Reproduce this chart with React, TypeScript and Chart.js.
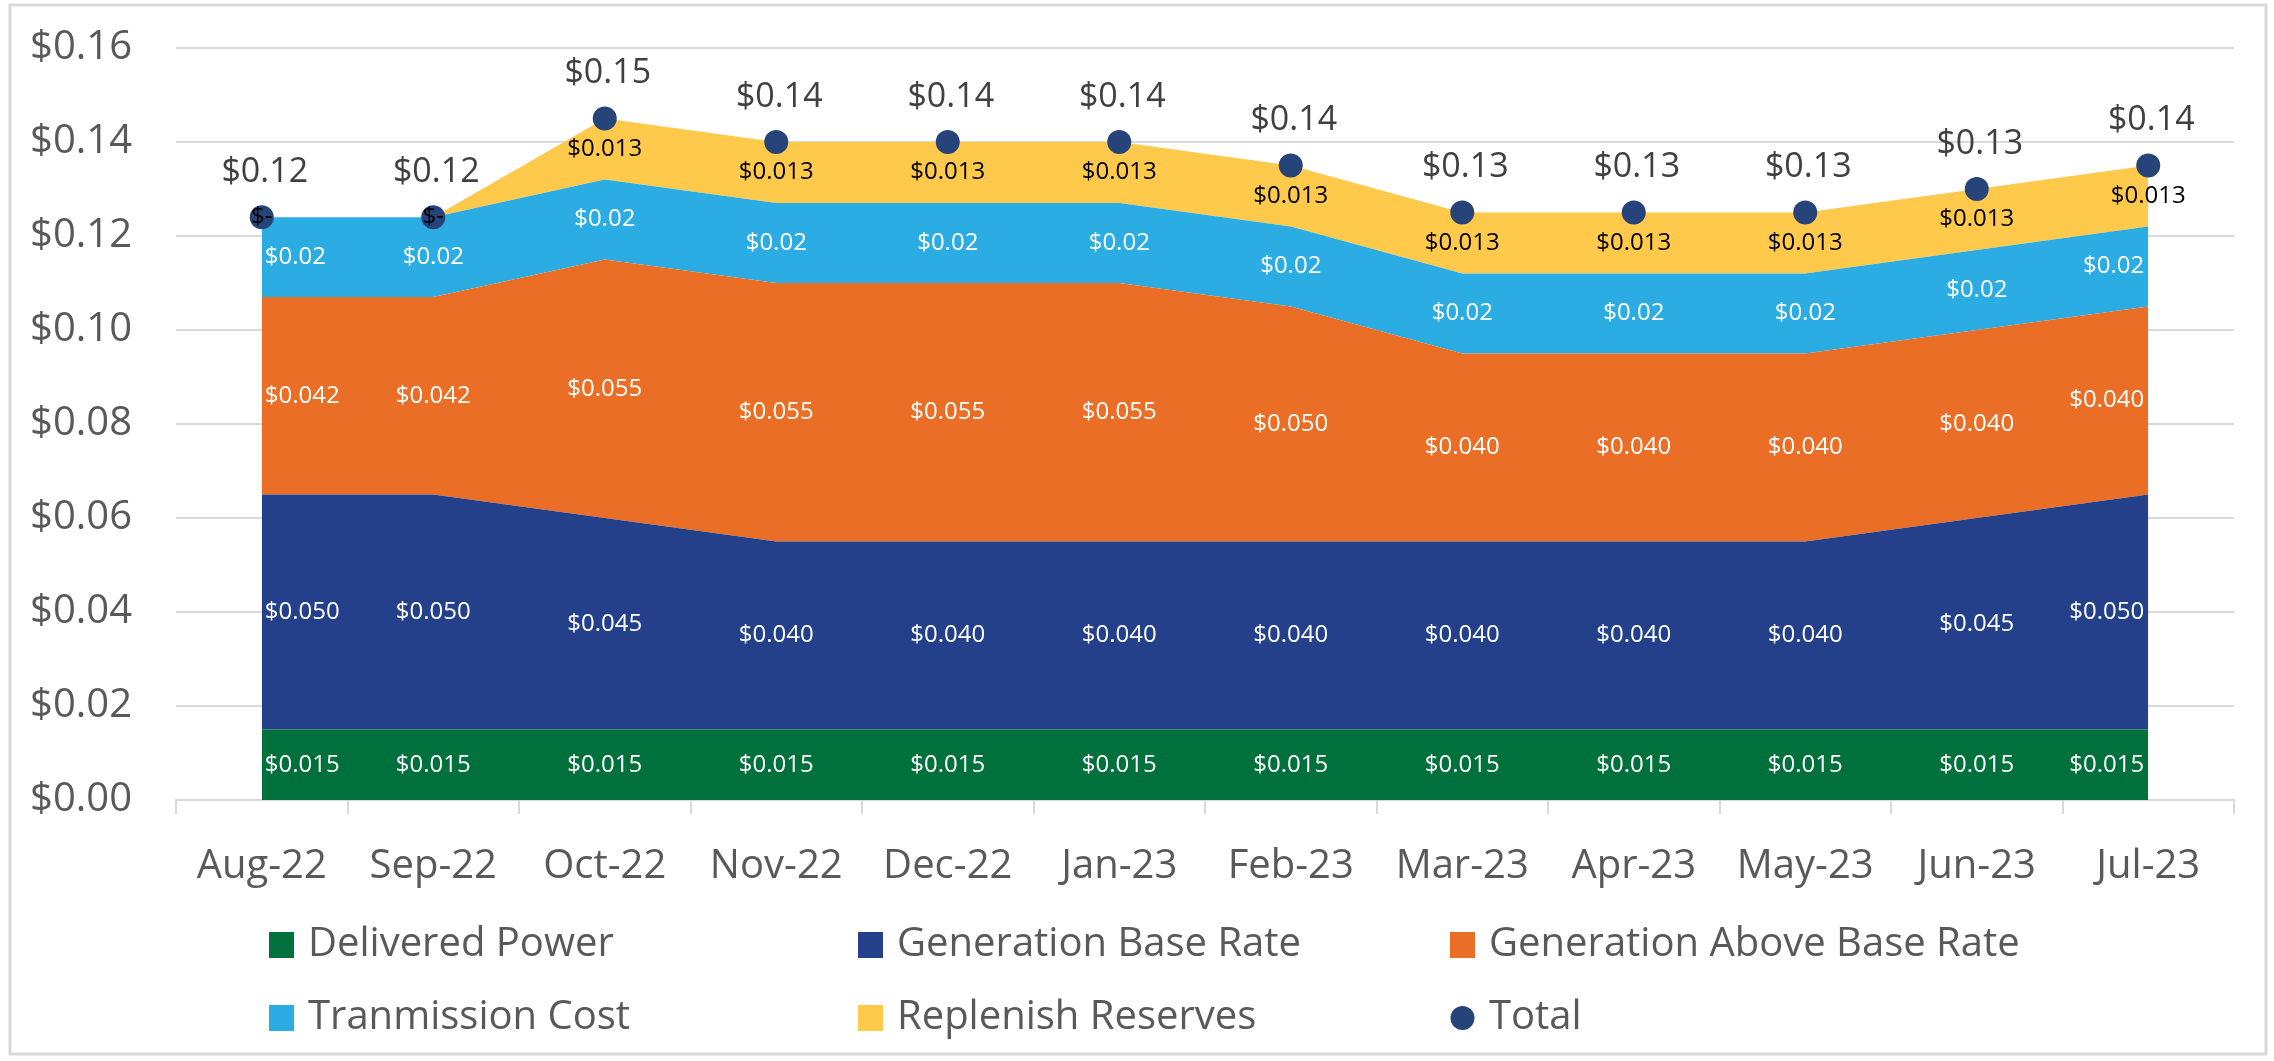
import React, { useEffect, useRef } from 'react';
import { Chart, registerables } from 'chart.js';

Chart.register(...registerables);

const categories = ['Aug-22', 'Sep-22', 'Oct-22', 'Nov-22', 'Dec-22', 'Jan-23', 'Feb-23', 'Mar-23', 'Apr-23', 'May-23', 'Jun-23', 'Jul-23'];
const deliveredPower = [0.015, 0.015, 0.015, 0.015, 0.015, 0.015, 0.015, 0.015, 0.015, 0.015, 0.015, 0.015];
const generationBaseRate = [0.05, 0.05, 0.045, 0.04, 0.04, 0.04, 0.04, 0.04, 0.04, 0.04, 0.045, 0.05];
const generationAboveBaseRate = [0.042, 0.042, 0.055, 0.055, 0.055, 0.055, 0.05, 0.04, 0.04, 0.04, 0.04, 0.04];
const transmissionCost = [0.017, 0.017, 0.017, 0.017, 0.017, 0.017, 0.017, 0.017, 0.017, 0.017, 0.017, 0.017];
const replenishReserves = [0, 0, 0.013, 0.013, 0.013, 0.013, 0.013, 0.013, 0.013, 0.013, 0.013, 0.013];
const totals = [0.124, 0.124, 0.145, 0.14, 0.14, 0.14, 0.135, 0.125, 0.125, 0.125, 0.13, 0.135];
const yMin = 0;
const yMax = 0.16;
const yStep = 0.02;

const FONT = "'Open Sans', 'DejaVu Sans', sans-serif";
const AXIS_COLOR = '#595959';
const GRID_COLOR = '#d9d9d9';

const areaSeries = [
  { label: 'Delivered Power', data: deliveredPower, color: '#00703C', decimals: 3, labelColor: '#ffffff' },
  { label: 'Generation Base Rate', data: generationBaseRate, color: '#24408A', decimals: 3, labelColor: '#ffffff' },
  { label: 'Generation Above Base Rate', data: generationAboveBaseRate, color: '#EA6E26', decimals: 3, labelColor: '#ffffff' },
  { label: 'Tranmission Cost', data: transmissionCost, color: '#2BADE3', decimals: 2, labelColor: '#ffffff' },
  { label: 'Replenish Reserves', data: replenishReserves, color: '#FFC94B', decimals: 3, labelColor: '#000000' },
];
const TOTAL_COLOR = '#26447A';

function money(v: number, decimals: number): string {
  if (Math.abs(v) < 1e-9) return '$-';
  const f = Math.pow(10, decimals);
  return '$' + (Math.round(v * f + 1e-6) / f).toFixed(decimals);
}

const frameAndLegendPlugin = {
  id: 'frameAndLegend',
  beforeDraw(chart: any) {
    const ctx = chart.ctx;
    ctx.save();
    ctx.fillStyle = '#ffffff';
    ctx.fillRect(0, 0, chart.width, chart.height);
    ctx.strokeStyle = GRID_COLOR;
    ctx.lineWidth = 3;
    ctx.strokeRect(10, 5, 2256, 1049);
    ctx.restore();
  },
  afterDraw(chart: any) {
    const ctx = chart.ctx;
    const items = [
      ...areaSeries.map((s) => ({ label: s.label, color: s.color, circle: false })),
      { label: 'Total', color: TOTAL_COLOR, circle: true },
    ];
    const colX = [269, 858, 1450];
    const rowY = [945, 1018];
    ctx.save();
    ctx.font = `40px ${FONT}`;
    ctx.textBaseline = 'middle';
    ctx.textAlign = 'left';
    items.forEach((it, i) => {
      const x = colX[i % 3];
      const y = rowY[Math.floor(i / 3)];
      ctx.fillStyle = it.color;
      if (it.circle) {
        ctx.beginPath();
        ctx.arc(x + 12.5, y, 12, 0, Math.PI * 2);
        ctx.fill();
      } else {
        ctx.fillRect(x, y - 13, 25, 26);
      }
      ctx.fillStyle = AXIS_COLOR;
      ctx.fillText(it.label, x + 39, y);
    });
    ctx.restore();
  },
};

const dataLabelPlugin = {
  id: 'dataLabels',
  afterDatasetsDraw(chart: any) {
    const ctx = chart.ctx;
    const yScale = chart.scales.y;
    const n = categories.length;
    const cum = new Array(n).fill(0);
    ctx.save();
    ctx.textBaseline = 'middle';
    areaSeries.forEach((s, si) => {
      const meta = chart.getDatasetMeta(si);
      ctx.font = `24px ${FONT}`;
      ctx.fillStyle = s.labelColor;
      s.data.forEach((v, i) => {
        const lo = cum[i];
        const hi = lo + v;
        cum[i] = hi;
        const x = meta.data[i].x;
        const y = yScale.getPixelForValue((lo + hi) / 2);
        let tx = x;
        if (s.labelColor === '#ffffff' && i === 0) {
          ctx.textAlign = 'left';
          tx = x + 3;
        } else if (s.labelColor === '#ffffff' && i === n - 1) {
          ctx.textAlign = 'right';
          tx = x - 4;
        } else {
          ctx.textAlign = 'center';
        }
        ctx.fillText(money(v, s.decimals), tx, y);
      });
    });
    const tMeta = chart.getDatasetMeta(areaSeries.length);
    ctx.font = `34px ${FONT}`;
    ctx.fillStyle = '#404040';
    ctx.textAlign = 'center';
    totals.forEach((v, i) => {
      const p = tMeta.data[i];
      ctx.fillText(money(v, 2), p.x + 3, p.y - 45);
    });
    ctx.restore();
  },
};

export default function App() {
  const canvasRef = useRef<HTMLCanvasElement | null>(null);

  useEffect(() => {
    document.body.style.margin = '0';
    const canvas = canvasRef.current;
    if (!canvas) return;
    const datasets: any[] = areaSeries.map((s, i) => ({
      type: 'line',
      label: s.label,
      data: s.data,
      backgroundColor: s.color,
      borderColor: s.color,
      borderWidth: 0,
      pointRadius: 0,
      pointHoverRadius: 0,
      tension: 0,
      fill: i === 0 ? 'origin' : '-1',
      stack: 'areas',
      order: 1,
    }));
    datasets.push({
      type: 'line',
      label: 'Total',
      data: totals,
      showLine: false,
      pointRadius: 12,
      pointHoverRadius: 12,
      pointBackgroundColor: TOTAL_COLOR,
      pointBorderWidth: 0,
      backgroundColor: TOTAL_COLOR,
      borderColor: TOTAL_COLOR,
      fill: false,
      stack: 'total',
      order: -1,
    });

    const chart = new Chart(canvas, {
      type: 'line',
      data: { labels: categories, datasets },
      options: {
        responsive: false,
        maintainAspectRatio: false,
        animation: false,
        devicePixelRatio: 1,
        layout: { padding: { left: 0, right: 40, top: 48, bottom: 151 } },
        plugins: {
          legend: { display: false },
          tooltip: { enabled: false },
        },
        scales: {
          x: {
            offset: true,
            grid: {
              offset: true,
              drawOnChartArea: false,
              drawTicks: true,
              tickLength: 14,
              color: GRID_COLOR,
              lineWidth: 2,
            },
            border: { display: true, color: GRID_COLOR, width: 2 },
            ticks: {
              color: AXIS_COLOR,
              font: { family: FONT, size: 40 },
              padding: 29,
              maxRotation: 0,
              autoSkip: false,
            },
            afterFit: (s: any) => {
              s.height = 110;
            },
          },
          y: {
            stacked: true,
            min: yMin,
            max: yMax,
            ticks: {
              stepSize: yStep,
              color: AXIS_COLOR,
              font: { family: FONT, size: 40 },
              padding: 0,
              callback: (v: any) => '$' + Number(v).toFixed(2),
            },
            grid: {
              color: GRID_COLOR,
              lineWidth: 2,
              drawTicks: true,
              tickLength: 44,
              tickColor: 'rgba(0,0,0,0)',
            },
            border: { display: false },
            afterFit: (s: any) => {
              s.width = 176;
            },
          },
        },
      } as any,
      plugins: [frameAndLegendPlugin, dataLabelPlugin],
    });
    return () => chart.destroy();
  }, []);

  return (
    <div style={{ position: 'fixed', left: 0, top: 0, width: 2274, height: 1061, background: '#fff' }}>
      <canvas ref={canvasRef} width={2274} height={1061} style={{ display: 'block', width: 2274, height: 1061 }} />
    </div>
  );
}
